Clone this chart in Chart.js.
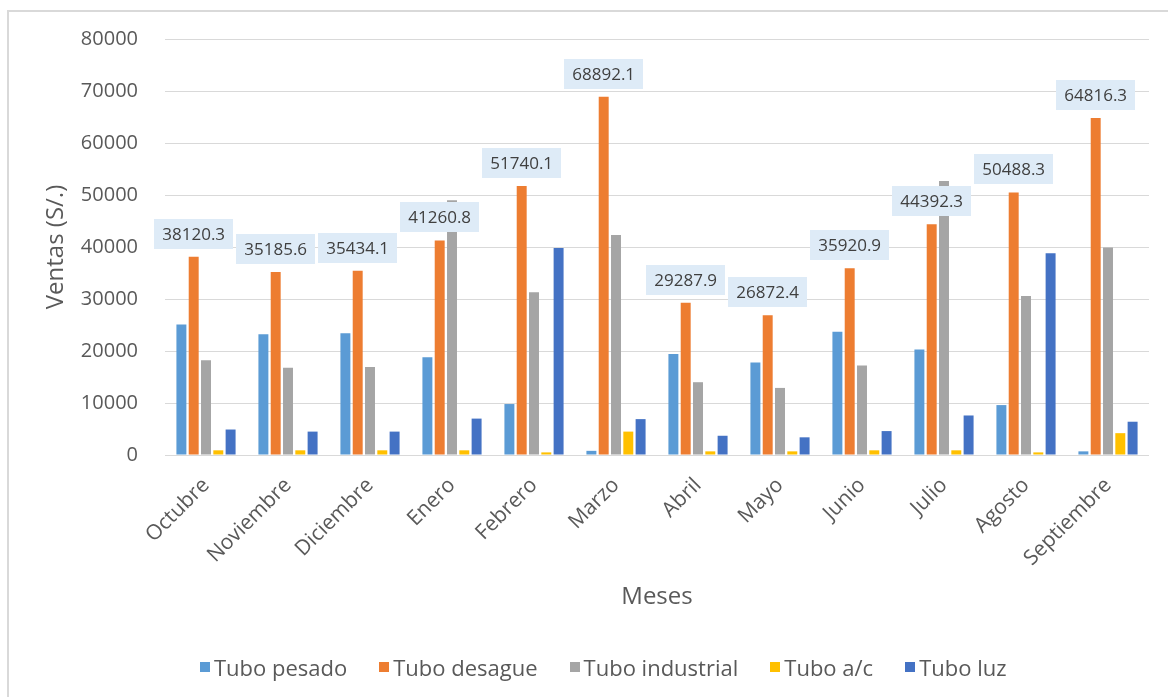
<!DOCTYPE html>
<html>
<head>
<meta charset="utf-8">
<script src="https://cdn.jsdelivr.net/npm/chart.js@4.4.1/dist/chart.umd.min.js"></script>
<style>
  html, body { margin: 0; padding: 0; background: #fff; }
  #wrap { position: relative; width: 1168px; height: 697px; overflow: hidden; background: #fff; }
  #frame { position: absolute; left: 7px; top: 10px; width: 1220px; height: 740px;
           border-top: 2px solid #d9d9d9; border-left: 2px solid #d9d9d9; box-sizing: border-box; }
  #chart { position: absolute; left: 0; top: 0; }
  #legend { position: absolute; left: 200px; top: 652px; height: 30px; display: flex; align-items: center;
            font-family: 'Open Sans', sans-serif; font-size: 22px; color: #595959; white-space: nowrap; }
  #legend .item { display: flex; align-items: center; margin-right: 32px; }
  #legend .sw { width: 10px; height: 10px; margin-right: 4px; }
</style>
</head>
<body>
<div id="wrap">
  <div id="frame"></div>
  <canvas id="chart" width="1168" height="697"></canvas>
  <div id="legend"></div>
</div>
<script>
// Monthly sales per product line (S/.)
const categories = ['Octubre', 'Noviembre', 'Diciembre', 'Enero', 'Febrero', 'Marzo',
                    'Abril', 'Mayo', 'Junio', 'Julio', 'Agosto', 'Septiembre'];
const seriesNames = ['Tubo pesado', 'Tubo desague', 'Tubo industrial', 'Tubo a/c', 'Tubo luz'];
const tuboPesado     = [25100, 23200, 23400, 18800, 9800, 800, 19400, 17800, 23700, 20300, 9600, 700];
const tuboDesague    = [38120.3, 35185.6, 35434.1, 41260.8, 51740.1, 68892.1,
                        29287.9, 26872.4, 35920.9, 44392.3, 50488.3, 64816.3];
const tuboIndustrial = [18200, 16800, 16900, 49000, 31300, 42300, 14000, 12900, 17200, 52700, 30600, 39900];
const tuboAC         = [900, 900, 900, 900, 500, 4500, 700, 700, 900, 900, 500, 4200];
const tuboLuz        = [4900, 4500, 4500, 7000, 39800, 6900, 3700, 3400, 4600, 7600, 38800, 6400];
const yMin = 0, yMax = 80000, yStep = 10000;
const xTitle = 'Meses';
const yTitle = 'Ventas (S/.)';

const colors = ['#5B9BD5', '#ED7D31', '#A5A5A5', '#FFC000', '#4472C4'];
const seriesValues = [tuboPesado, tuboDesague, tuboIndustrial, tuboAC, tuboLuz];
const labelledSeries = 1; // the desague series carries value labels

const FONT = "'Open Sans', sans-serif";
const TEXT = '#595959';

// Value boxes drawn above each bar of the labelled series
const valueBoxes = {
  id: 'valueBoxes',
  afterDatasetsDraw(chart) {
    const ctx = chart.ctx;
    const meta = chart.getDatasetMeta(labelledSeries);
    const data = chart.data.datasets[labelledSeries].data;
    ctx.save();
    ctx.font = '17px ' + FONT;
    ctx.textAlign = 'center';
    ctx.textBaseline = 'middle';
    meta.data.forEach((bar, i) => {
      const txt = Number(data[i]).toFixed(1);
      const w = ctx.measureText(txt).width + 16;
      const h = 30;
      const bottom = bar.y - 8;
      ctx.fillStyle = '#DEEBF7';
      ctx.fillRect(Math.round(bar.x - w / 2), Math.round(bottom - h), Math.round(w), h);
      ctx.fillStyle = '#404040';
      ctx.fillText(txt, bar.x, bottom - h / 2 + 1);
    });
    ctx.restore();
  }
};

const chart = new Chart(document.getElementById('chart'), {
  type: 'bar',
  data: {
    labels: categories,
    datasets: seriesNames.map((name, i) => ({
      label: name,
      data: seriesValues[i],
      backgroundColor: colors[i],
      borderWidth: 0,
      categoryPercentage: 0.75,
      barPercentage: 0.81
    }))
  },
  options: {
    responsive: false,
    animation: false,
    layout: { padding: { left: 7, right: 19, top: 39, bottom: 60 } },
    plugins: {
      legend: { display: false },
      tooltip: { enabled: false }
    },
    scales: {
      x: {
        grid: { display: false, drawTicks: false },
        border: { display: false },
        ticks: {
          color: TEXT, font: { family: FONT, size: 21 },
          minRotation: 45, maxRotation: 45, autoSkip: false, padding: 18
        },
        title: {
          display: true, text: xTitle, color: TEXT,
          font: { family: FONT, size: 24 }, padding: { top: 0, bottom: 25 }
        },
        afterFit(scale) { scale.height = 182; }
      },
      y: {
        min: yMin, max: yMax,
        grid: { color: '#D9D9D9', lineWidth: 1, drawTicks: false },
        border: { display: false },
        ticks: {
          stepSize: yStep, color: TEXT, font: { family: FONT, size: 20 }, padding: 27,
          callback: v => String(v)
        },
        title: {
          display: true, text: yTitle, color: TEXT,
          font: { family: FONT, size: 24 }, padding: { top: 35, bottom: 0 }
        },
        afterFit(scale) { scale.width = 158; }
      }
    }
  },
  plugins: [valueBoxes]
});

// Legend built from the chart's datasets
const legendEl = document.getElementById('legend');
chart.data.datasets.forEach(ds => {
  const item = document.createElement('div');
  item.className = 'item';
  const sw = document.createElement('span');
  sw.className = 'sw';
  sw.style.background = ds.backgroundColor;
  const label = document.createElement('span');
  label.textContent = ds.label;
  item.appendChild(sw);
  item.appendChild(label);
  legendEl.appendChild(item);
});
</script>
</body>
</html>
